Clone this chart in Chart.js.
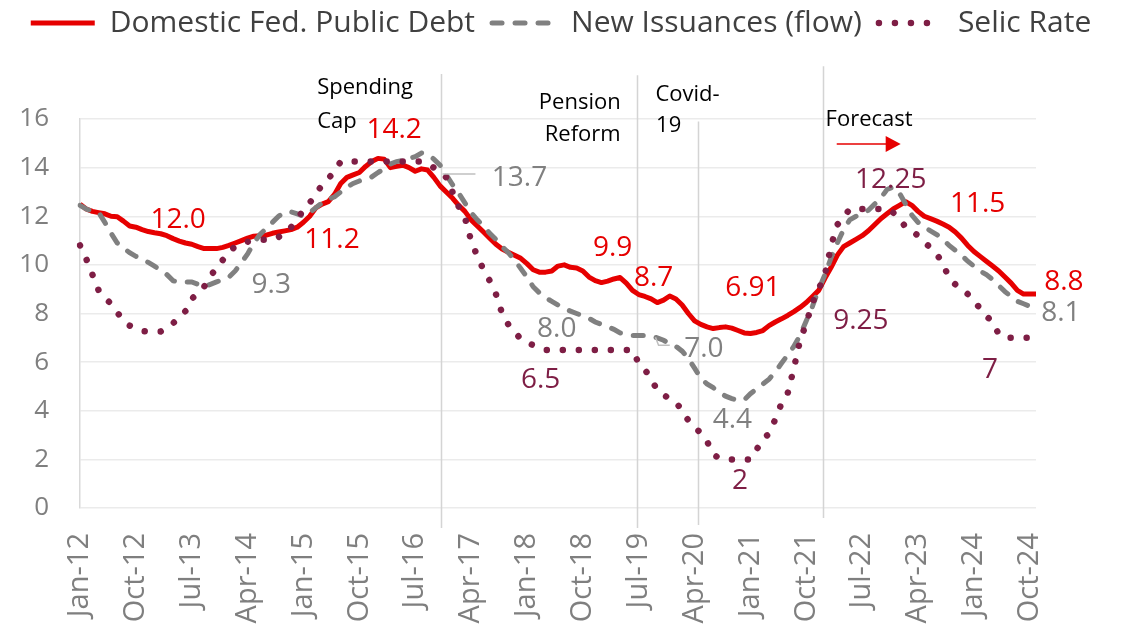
<!DOCTYPE html>
<html>
<head>
<meta charset="utf-8">
<title>Domestic federal public debt, new issuances and Selic rate</title>
<script src="https://cdn.jsdelivr.net/npm/chart.js@4.4.1/dist/chart.umd.min.js"></script>
<style>
  html, body { margin: 0; padding: 0; background: #fff; }
</style>
</head>
<body>
<canvas id="chart" width="1122" height="629"></canvas>
<script>
// months Jan-12 .. Nov-24, a tick label every 9 months
const monthNames = ['Jan', 'Feb', 'Mar', 'Apr', 'May', 'Jun', 'Jul', 'Aug', 'Sep', 'Oct', 'Nov', 'Dec'];
const months = [];
for (let yr = 12; yr <= 24; yr++) {
    monthNames.forEach(m => months.push(m + '-' + yr));
}
months.length = 155;
const tickEvery = 9;

const yTicks = [0, 2, 4, 6, 8, 10, 12, 14, 16];

// Domestic Fed. Public Debt (% p.a.)
const debt = [
    12.5, 12.3, 12.2, 12.15, 12.1, 12.0, 11.98, 11.8, 11.6, 11.55,
    11.45, 11.37, 11.32, 11.28, 11.2, 11.08, 10.98, 10.9, 10.85, 10.75,
    10.67, 10.67, 10.67, 10.72, 10.8, 10.9, 11.0, 11.1, 11.18, 11.2,
    11.22, 11.3, 11.35, 11.4, 11.45, 11.55, 11.75, 12.0, 12.35, 12.5,
    12.6, 12.9, 13.35, 13.6, 13.7, 13.8, 14.05, 14.25, 14.38, 14.35,
    14.0, 14.05, 14.1, 14.0, 13.85, 13.95, 13.9, 13.6, 13.25, 13.0,
    12.75, 12.45, 12.2, 11.85, 11.6, 11.35, 11.1, 10.85, 10.65, 10.52,
    10.4, 10.27, 10.05, 9.8, 9.7, 9.7, 9.75, 9.95, 10.0, 9.9,
    9.87, 9.75, 9.5, 9.35, 9.27, 9.33, 9.42, 9.48, 9.25, 8.95,
    8.78, 8.7, 8.6, 8.45, 8.55, 8.72, 8.6, 8.35, 8.0, 7.7,
    7.55, 7.45, 7.38, 7.42, 7.45, 7.4, 7.3, 7.2, 7.18, 7.22,
    7.3, 7.5, 7.65, 7.78, 7.92, 8.08, 8.25, 8.45, 8.7, 8.95,
    9.45, 9.9, 10.4, 10.75, 10.9, 11.05, 11.2, 11.4, 11.65, 11.9,
    12.1, 12.3, 12.45, 12.6, 12.45, 12.2, 12.0, 11.9, 11.8, 11.68,
    11.55, 11.35, 11.1, 10.8, 10.55, 10.35, 10.15, 9.95, 9.75, 9.5,
    9.25, 8.95, 8.8, 8.8, 8.8
];

// New Issuances (flow)
const issuances = [
    12.45, 12.3, 12.2, 12.15, 11.75, 11.3, 10.9, 10.7, 10.5, 10.35,
    10.25, 10.1, 9.95, 9.78, 9.6, 9.35, 9.28, 9.3, 9.3, 9.2,
    9.1, 9.2, 9.3, 9.4, 9.5, 9.75, 10.1, 10.45, 10.9, 11.25,
    11.5, 11.75, 12.0, 12.18, 12.18, 12.1, 12.0, 12.15, 12.35, 12.55,
    12.7, 12.8, 13.0, 13.2, 13.35, 13.45, 13.55, 13.62, 13.8, 13.95,
    14.15, 14.25, 14.3, 14.38, 14.45, 14.6, 14.55, 14.35, 14.1, 13.7,
    13.3, 12.95, 12.55, 12.15, 11.85, 11.6, 11.3, 11.05, 10.75, 10.5,
    10.2, 9.85, 9.5, 9.1, 8.85, 8.65, 8.5, 8.35, 8.2, 8.1,
    8.0, 7.9, 7.8, 7.65, 7.55, 7.45, 7.35, 7.2, 7.15, 7.1,
    7.1, 7.1, 7.05, 7.0, 6.9, 6.75, 6.65, 6.45, 6.15, 5.75,
    5.35, 5.1, 4.95, 4.75, 4.6, 4.5, 4.43, 4.45, 4.7, 4.9,
    5.1, 5.3, 5.6, 5.95, 6.3, 6.65, 7.1, 7.7, 8.3, 9.0,
    9.6, 10.3, 10.9, 11.45, 11.85, 12.0, 12.1, 12.25, 12.5, 12.75,
    13.1, 13.2, 12.95, 12.5, 12.05, 11.75, 11.55, 11.4, 11.25, 11.05,
    10.8, 10.6, 10.4, 10.15, 9.95, 9.75, 9.6, 9.4, 9.15, 8.9,
    8.7, 8.5, 8.4, 8.3, 8.2
];

// Selic Rate
const selic = [
    10.8, 10.25, 9.6, 8.95, 8.65, 8.4, 8.05, 7.7, 7.5, 7.38,
    7.28, 7.26, 7.26, 7.26, 7.4, 7.6, 7.85, 8.1, 8.6, 8.85,
    9.1, 9.55, 9.85, 10.2, 10.55, 10.75, 10.87, 10.95, 11.0, 11.03,
    11.03, 11.03, 11.15, 11.28, 11.55, 11.9, 12.25, 12.55, 12.9, 13.3,
    13.55, 13.85, 14.25, 14.25, 14.25, 14.25, 14.25, 14.25, 14.25, 14.25,
    14.25, 14.25, 14.25, 14.25, 14.25, 14.25, 14.15, 14.0, 13.8, 13.6,
    13.0, 12.4, 11.95, 11.0, 10.35, 9.8, 9.35, 8.8, 8.0, 7.55,
    7.25, 6.95, 6.8, 6.7, 6.6, 6.5, 6.5, 6.5, 6.5, 6.5,
    6.5, 6.5, 6.5, 6.5, 6.5, 6.5, 6.5, 6.5, 6.5, 6.5,
    5.95, 5.7, 5.3, 4.85, 4.65, 4.5, 4.35, 4.0, 3.6, 3.3,
    3.1, 2.75, 2.2, 2.05, 2.0, 2.0, 2.0, 2.0, 2.0, 2.4,
    2.85, 3.05, 3.65, 4.3, 4.72, 5.75, 6.9, 7.6, 8.45, 9.0,
    9.6, 10.8, 11.65, 11.95, 12.3, 12.3, 12.3, 12.3, 12.3, 12.3,
    12.3, 12.15, 11.9, 11.55, 11.4, 11.2, 10.95, 10.7, 10.45, 10.05,
    9.45, 9.2, 9.05, 8.8, 8.53, 8.2, 7.9, 7.65, 7.15, 7.0,
    7.0, 7.0, 7.0, 7.0, 7.0
];

const RED = '#E60000';
const GREY = '#808080';
const WINE = '#7E1E45';
const FONT = '"Open Sans", "Noto Sans", sans-serif';

// value callouts, anchored in (month index, y value)
const callouts = [
    { text: '12.0', color: RED, at: 15.8, v: 11.94 },
    { text: '14.2', color: RED, at: 50.6, v: 15.63 },
    { text: '11.2', color: RED, at: 40.6, v: 11.12 },
    { text: '9.9', color: RED, at: 85.8, v: 10.79 },
    { text: '8.7', color: RED, at: 92.4, v: 9.56 },
    { text: '6.91', color: RED, at: 108.4, v: 9.15 },
    { text: '11.5', color: RED, at: 144.6, v: 12.6 },
    { text: '8.8', color: RED, at: 158.5, v: 9.39 },
    { text: '9.3', color: GREY, at: 30.8, v: 9.27 },
    { text: '13.7', color: GREY, at: 70.8, v: 13.66 },
    { text: '8.0', color: GREY, at: 76.8, v: 7.43 },
    { text: '7.0', color: GREY, at: 100.5, v: 6.61 },
    { text: '4.4', color: GREY, at: 105.1, v: 3.69 },
    { text: '8.1', color: GREY, at: 158.0, v: 8.12 },
    { text: '6.5', color: WINE, at: 74.2, v: 5.33 },
    { text: '2', color: WINE, at: 106.3, v: 1.19 },
    { text: '9.25', color: WINE, at: 125.8, v: 7.79 },
    { text: '12.25', color: WINE, at: 130.6, v: 13.58 },
    { text: '7', color: WINE, at: 146.6, v: 5.74 }
];

const leaders = [
    [[58.4, 13.74], [63.7, 13.74]],
    [[92.7, 7.02], [93.2, 6.69], [95.0, 6.69]]
];

// event markers and their notes
const eventLines = [
    { at: 58.2, from: 17.85, to: -0.82 },
    { at: 89.7, from: 17.8, to: -0.82 },
    { at: 99.5, from: 15.9, to: -0.7 },
    { at: 119.7, from: 18.17, to: -0.41 }
];

const notes = [
    { text: 'Spending', at: 38.2, v: 17.03, align: 'left' },
    { text: 'Cap', at: 38.2, v: 15.63, align: 'left' },
    { text: 'Pension', at: 87.1, v: 16.41, align: 'right' },
    { text: 'Reform', at: 87.1, v: 15.1, align: 'right' },
    { text: 'Covid-', at: 92.7, v: 16.73, align: 'left' },
    { text: '19', at: 92.8, v: 15.47, align: 'left' },
    { text: 'Forecast', at: 120.1, v: 15.71, align: 'left' }
];

const forecastArrow = { from: 121.9, to: 132.2, v: 14.97 };

const overlay = {
    id: 'overlay',
    beforeDatasetsDraw(chart) {
        const { ctx, scales: { x, y } } = chart;
        ctx.save();
        ctx.strokeStyle = '#d4d4d4';
        ctx.lineWidth = 1.5;
        eventLines.forEach(l => {
            const px = Math.round(x.getPixelForValue(l.at)) + 0.5;
            ctx.beginPath();
            ctx.moveTo(px, y.getPixelForValue(l.from));
            ctx.lineTo(px, y.getPixelForValue(l.to));
            ctx.stroke();
        });
        ctx.restore();
    },
    afterDatasetsDraw(chart) {
        const { ctx, scales: { x, y } } = chart;
        ctx.save();

        ctx.strokeStyle = '#bfbfbf';
        ctx.lineWidth = 1.5;
        leaders.forEach(pts => {
            ctx.beginPath();
            pts.forEach((p, k) => {
                const px = x.getPixelForValue(p[0]);
                const py = y.getPixelForValue(p[1]);
                if (k === 0) ctx.moveTo(px, py); else ctx.lineTo(px, py);
            });
            ctx.stroke();
        });

        ctx.font = '28px ' + FONT;
        ctx.textAlign = 'center';
        ctx.textBaseline = 'alphabetic';
        callouts.forEach(c => {
            ctx.fillStyle = c.color;
            ctx.fillText(c.text, x.getPixelForValue(c.at), y.getPixelForValue(c.v) + 10);
        });

        ctx.font = '22px ' + FONT;
        ctx.fillStyle = '#000';
        notes.forEach(n => {
            ctx.textAlign = n.align;
            ctx.fillText(n.text, x.getPixelForValue(n.at), y.getPixelForValue(n.v));
        });

        const ax0 = x.getPixelForValue(forecastArrow.from);
        const ax1 = x.getPixelForValue(forecastArrow.to);
        const ay = y.getPixelForValue(forecastArrow.v);
        ctx.strokeStyle = RED;
        ctx.fillStyle = RED;
        ctx.lineWidth = 1.5;
        ctx.beginPath();
        ctx.moveTo(ax0, ay);
        ctx.lineTo(ax1 - 12, ay);
        ctx.stroke();
        ctx.beginPath();
        ctx.moveTo(ax1, ay);
        ctx.lineTo(ax1 - 15, ay - 8);
        ctx.lineTo(ax1 - 15, ay + 8);
        ctx.closePath();
        ctx.fill();

        ctx.restore();
    }
};

const data = {
    labels: months,
    datasets: [
        {
            label: 'Domestic Fed. Public Debt',
            data: debt,
            borderColor: RED,
            backgroundColor: RED,
            borderWidth: 5,
            borderJoinStyle: 'round',
            pointRadius: 0,
            tension: 0,
            order: 3,
        },
        {
            label: 'New Issuances (flow)',
            data: issuances,
            borderColor: GREY,
            backgroundColor: GREY,
            borderWidth: 5,
            borderDash: [10, 13],
            borderCapStyle: 'round',
            pointRadius: 0,
            tension: 0,
            order: 2,
        },
        {
            label: 'Selic Rate',
            data: selic,
            borderColor: WINE,
            backgroundColor: WINE,
            borderWidth: 6.5,
            borderDash: [0.01, 16],
            borderCapStyle: 'round',
            pointRadius: 0,
            tension: 0,
            order: 1,
        },
    ],
};

const config = {
    type: 'line',
    data: data,
    plugins: [overlay],
    options: {
        responsive: false,
        animation: false,
        layout: {
            padding: { top: -9, left: 0, right: 0, bottom: 0 },
        },
        plugins: {
            tooltip: { enabled: false },
            legend: {
                position: 'top',
                labels: {
                    usePointStyle: true,
                    pointStyle: 'line',
                    pointStyleWidth: 64,
                    padding: 17,
                    color: '#404040',
                    font: { family: FONT, size: 30 },
                    generateLabels(chart) {
                        return chart.data.datasets.map((ds, i) => ({
                            text: ds.label,
                            datasetIndex: i,
                            strokeStyle: ds.borderColor,
                            fillStyle: ds.borderColor,
                            lineWidth: ds.borderWidth,
                            lineDash: ds.borderDash || [],
                            lineCap: ds.borderCapStyle || 'butt',
                            pointStyle: 'line',
                            fontColor: '#404040',
                            hidden: false,
                        }));
                    },
                },
            },
            // empty title used as spacer under the legend
            title: {
                display: true,
                text: ' ',
                weight: 500,
                font: { size: 10 },
                padding: { top: 0, bottom: 59 },
            },
        },
        scales: {
            x: {
                grid: { display: false, drawTicks: false },
                border: { display: false },
                ticks: {
                    autoSkip: false,
                    maxRotation: 90,
                    minRotation: 90,
                    padding: 25,
                    color: '#7f7f7f',
                    font: { family: FONT, size: 29 },
                    callback: function (value, index) {
                        return index % tickEvery === 0 ? this.getLabelForValue(value) : '';
                    },
                },
                afterFit: scale => { scale.height = 121; },
            },
            y: {
                min: yTicks[0],
                max: yTicks[yTicks.length - 1],
                afterBuildTicks: scale => {
                    scale.ticks = yTicks.map(v => ({ value: v }));
                },
                grid: { color: '#ebebeb', lineWidth: 1.5, drawTicks: false },
                border: { display: true, color: '#d9d9d9', width: 1.5 },
                ticks: {
                    padding: 31,
                    color: '#7f7f7f',
                    font: { family: FONT, size: 26 },
                },
                afterFit: scale => { scale.width = 80; },
            },
            // keeps room on the right for the end labels
            yRight: {
                position: 'right',
                grid: { display: false, drawTicks: false },
                border: { display: false },
                ticks: { display: false },
                afterFit: scale => { scale.width = 86; },
            },
        },
    },
};

const element = document.getElementById('chart');
const chart = new Chart(element, config);
</script>
</body>
</html>
